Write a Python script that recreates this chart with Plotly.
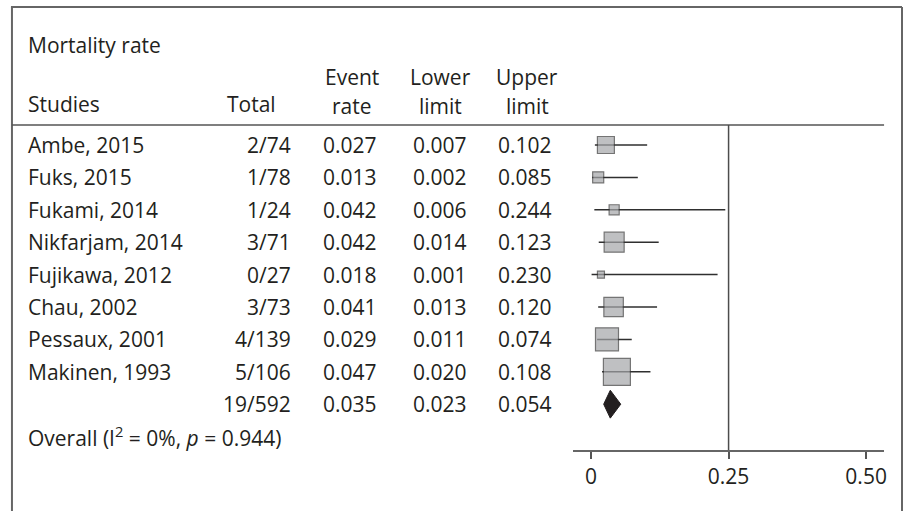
import plotly.graph_objects as go

# ---------------- data ----------------
studies = ["Ambe, 2015", "Fuks, 2015", "Fukami, 2014", "Nikfarjam, 2014",
           "Fujikawa, 2012", "Chau, 2002", "Pessaux, 2001", "Makinen, 1993"]
totals = ["2/74", "1/78", "1/24", "3/71", "0/27", "3/73", "4/139", "5/106"]
event_rate = [0.027, 0.013, 0.042, 0.042, 0.018, 0.041, 0.029, 0.047]
lower_limit = [0.007, 0.002, 0.006, 0.014, 0.001, 0.013, 0.011, 0.020]
upper_limit = [0.102, 0.085, 0.244, 0.123, 0.230, 0.120, 0.074, 0.108]
weights = [11.1, 4.7, 3.9, 15.4, 1.9, 14.6, 20.4, 28.1]  # relative weight (%)

overall_total = "19/592"
overall_rate = 0.035
overall_lower = 0.023
overall_upper = 0.054
overall_label = "Overall (I<sup>2</sup> = 0%, <i>p</i> = 0.944)"

title_text = "Mortality rate"
tick_vals = [0, 0.25, 0.50]
tick_text = ["0", "0.25", "0.50"]
ref_value = 0.25

# ---------------- layout helpers ----------------
W, H = 906, 511
FONT = "Open Sans"
FS = 21
TXT = "#231f20"
def px(x):
    return x / W
def py(y):
    return 1 - y / H

n = len(studies)
rows = list(range(n))
overall_row = n
label_row = n + 1

fig = go.Figure()

# CI lines
xs, ys = [], []
for i in rows:
    xs += [lower_limit[i], upper_limit[i], None]
    ys += [i, i, None]
fig.add_trace(go.Scatter(x=xs, y=ys, mode="lines",
                         line=dict(color="#2f2f2f", width=1.5),
                         hoverinfo="skip", showlegend=False))

# weight boxes
sizes = [5.09 * (w ** 0.5) for w in weights]
fig.add_trace(go.Scatter(x=event_rate, y=rows, mode="markers",
                         marker=dict(symbol="square", size=sizes,
                                     color="#a5a6a9",
                                     line=dict(color="#3a3a3a", width=1.2)),
                         showlegend=False))

# overall diamond
dh = 0.43
fig.add_trace(go.Scatter(
    x=[overall_lower, overall_rate, overall_upper, overall_rate, overall_lower],
    y=[overall_row, overall_row - dh, overall_row, overall_row + dh, overall_row],
    mode="lines", fill="toself", fillcolor="#231f20",
    line=dict(color="#231f20", width=1), showlegend=False))

ann = []
def A(text, x, y, xanchor, yref="y"):
    ann.append(dict(text=text, x=x, y=y, xref="paper", yref=yref,
                    xanchor=xanchor, yanchor="middle", showarrow=False,
                    font=dict(family=FONT, size=FS, color=TXT)))

# headers
A(title_text, px(26), py(45), "left", "paper")
A("Studies", px(26), py(104), "left", "paper")
A("Total", px(279), py(104), "right", "paper")
A("Event", px(353), py(77), "center", "paper")
A("rate", px(353), py(106), "center", "paper")
A("Lower", px(442), py(77), "center", "paper")
A("limit", px(442), py(106), "center", "paper")
A("Upper", px(529), py(77), "center", "paper")
A("limit", px(529), py(106), "center", "paper")

# rows
for i in rows:
    A(studies[i], px(26), i, "left")
    A(totals[i], px(294), i, "right")
    A(f"{event_rate[i]:.3f}", px(351), i, "center")
    A(f"{lower_limit[i]:.3f}", px(441), i, "center")
    A(f"{upper_limit[i]:.3f}", px(527), i, "center")

A(overall_total, px(294), overall_row, "right")
A(f"{overall_rate:.3f}", px(351), overall_row, "center")
A(f"{overall_lower:.3f}", px(441), overall_row, "center")
A(f"{overall_upper:.3f}", px(527), overall_row, "center")
A(overall_label, px(26), label_row, "left")

shapes = [
    # frame
    dict(type="line", xref="paper", yref="paper", x0=px(11), x1=px(905), y0=py(7), y1=py(7),
         line=dict(color="#666666", width=2)),
    dict(type="line", xref="paper", yref="paper", x0=px(12), x1=px(12), y0=py(7), y1=0,
         line=dict(color="#666666", width=2)),
    dict(type="line", xref="paper", yref="paper", x0=px(905), x1=px(905), y0=py(7), y1=0,
         line=dict(color="#666666", width=2)),
    # header separator
    dict(type="line", xref="paper", yref="paper", x0=px(12), x1=px(887), y0=py(125), y1=py(125),
         line=dict(color="#555555", width=1.5)),
    # reference line
    dict(type="line", xref="x", yref="y domain", x0=ref_value, x1=ref_value, y0=0, y1=1,
         line=dict(color="#4d4d4d", width=1.5)),
]

x0px = 593.0
unit = 552.0
row0 = 145.0
rstep = 32.4
fig.update_layout(
    width=W, height=H, margin=dict(l=0, r=0, t=0, b=0),
    paper_bgcolor="white", plot_bgcolor="white",
    showlegend=False, annotations=ann, shapes=shapes,
    xaxis=dict(domain=[575 / W, 887 / W],
               range=[(575 - x0px) / unit, (887 - x0px) / unit],
               tickvals=tick_vals, ticktext=tick_text,
               ticks="outside", ticklen=7, tickwidth=1.5, tickcolor="#555555",
               showline=True, linecolor="#666666", linewidth=1.5,
               showgrid=False, zeroline=False,
               tickfont=dict(family=FONT, size=FS, color=TXT)),
    yaxis=dict(domain=[1 - 450 / H, 1 - 125 / H],
               range=[(450 - row0) / rstep, (125 - row0) / rstep],
               visible=False, showgrid=False, zeroline=False),
)

fig.write_html("out.html")
